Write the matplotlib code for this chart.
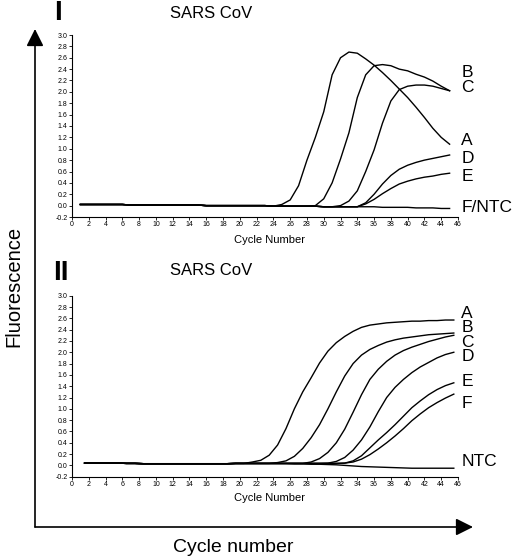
import numpy as np
import matplotlib
matplotlib.use("Agg")
import matplotlib.pyplot as plt

plt.rcParams['font.family'] = ['Liberation Sans', 'DejaVu Sans']

# ---------------- data ----------------
# Panel I: cycles 1..45
cycles1 = np.arange(1, 46)
base1 = [0.02, 0.02, 0.02, 0.02, 0.02, 0.02, 0.01, 0.01, 0.01, 0.01,
         0.01, 0.01, 0.01, 0.01, 0.01, 0.0, 0.0, 0.0, 0.0, 0.0,
         0.0, 0.0, 0.0, -0.01, -0.01, -0.01, -0.01, -0.01, -0.01, -0.02,
         -0.02, -0.02, -0.02, -0.02, -0.02, -0.02, -0.03, -0.03, -0.03, -0.03,
         -0.04, -0.04, -0.04, -0.05, -0.05]
rise_A1 = [0.02, 0.1, 0.35, 0.8, 1.2, 1.65, 2.3, 2.6, 2.7, 2.68, 2.58,
           2.47, 2.34, 2.2, 2.05, 1.9, 1.73, 1.55, 1.36, 1.2, 1.08]      # from cycle 25
rise_B1 = [0.0, 0.12, 0.4, 0.82, 1.28, 1.9, 2.3, 2.46, 2.48, 2.46, 2.4,
           2.37, 2.31, 2.26, 2.19, 2.1, 2.02]                           # from cycle 29
rise_C1 = [0.0, 0.08, 0.26, 0.6, 0.98, 1.45, 1.84, 2.04, 2.1, 2.12,
           2.12, 2.1, 2.06, 2.02]                                       # from cycle 32
rise_D1 = [0.05, 0.2, 0.38, 0.53, 0.64, 0.71, 0.76, 0.8, 0.83, 0.86, 0.89]  # from cycle 35
rise_E1 = [0.03, 0.11, 0.21, 0.3, 0.38, 0.43, 0.47, 0.5, 0.52, 0.55, 0.57]  # from cycle 35

panel1 = {
    'A': base1[:24] + rise_A1,
    'B': base1[:28] + rise_B1,
    'C': base1[:31] + rise_C1,
    'D': base1[:34] + rise_D1,
    'E': base1[:34] + rise_E1,
    'F/NTC': base1,
}
labels1 = ['B', 'C', 'A', 'D', 'E', 'F/NTC']
label_y1 = [2.34, 2.07, 1.15, 0.82, 0.52, -0.03]

# Panel II: readings every cycle starting at 1.5
cycles2 = np.arange(1.5, 46.0, 1.0)
base2 = [0.04, 0.04, 0.04, 0.04, 0.04, 0.035, 0.035, 0.03, 0.03, 0.03,
         0.03, 0.03, 0.03, 0.03, 0.03, 0.03, 0.03, 0.03, 0.035, 0.035,
         0.035, 0.035, 0.035, 0.035, 0.035, 0.035, 0.035, 0.035, 0.035, 0.035,
         0.035, 0.035]
rise_A2 = [0.06, 0.09, 0.18, 0.36, 0.65, 1.0, 1.3, 1.55, 1.81, 2.02,
           2.17, 2.28, 2.37, 2.44, 2.48, 2.5, 2.52, 2.53, 2.54, 2.55,
           2.55, 2.56, 2.56, 2.57, 2.57]                                # from 21.5
rise_B2 = [0.05, 0.08, 0.16, 0.3, 0.49, 0.72, 1.0, 1.3, 1.58, 1.8,
           1.95, 2.05, 2.12, 2.18, 2.22, 2.25, 2.27, 2.29, 2.31, 2.32,
           2.33, 2.34]                                                  # from 24.5
rise_C2 = [0.06, 0.12, 0.23, 0.4, 0.64, 0.94, 1.25, 1.52, 1.7, 1.84,
           1.95, 2.03, 2.09, 2.14, 2.19, 2.23, 2.27, 2.30]              # from 28.5
rise_D2 = [0.04, 0.07, 0.14, 0.27, 0.45, 0.68, 0.95, 1.2, 1.38, 1.52,
           1.64, 1.74, 1.82, 1.9, 1.96, 2.0]                            # from 30.5
rise_E2 = [0.04, 0.08, 0.17, 0.31, 0.45, 0.58, 0.72, 0.87, 1.02, 1.14,
           1.25, 1.34, 1.41, 1.46]                                      # from 32.5
rise_F2 = [0.04, 0.06, 0.11, 0.19, 0.29, 0.4, 0.52, 0.65, 0.79, 0.91,
           1.02, 1.11, 1.19, 1.26]                                      # from 32.5
ntc2 = [0.04, 0.04, 0.04, 0.04, 0.04, 0.035, 0.035, 0.03, 0.03, 0.03,
        0.03, 0.03, 0.03, 0.03, 0.03, 0.03, 0.03, 0.03, 0.03, 0.03,
        0.03, 0.03, 0.03, 0.03, 0.03, 0.025, 0.025, 0.02, 0.02, 0.015,
        0.01, 0.0, -0.01, -0.02, -0.025, -0.03, -0.035, -0.04, -0.045, -0.05,
        -0.05, -0.05, -0.05, -0.05, -0.05]

panel2 = {
    'A': base2[:20] + rise_A2,
    'B': base2[:23] + rise_B2,
    'C': base2[:27] + rise_C2,
    'D': base2[:29] + rise_D2,
    'E': base2[:31] + rise_E2,
    'F': base2[:31] + rise_F2,
    'NTC': ntc2,
}
labels2 = ['A', 'B', 'C', 'D', 'E', 'F', 'NTC']
label_y2 = [2.69, 2.43, 2.18, 1.92, 1.49, 1.10, 0.06]

yticks = np.round(np.arange(-0.2, 3.01, 0.2), 1)
xticks = np.arange(0, 47, 2)

# ---------------- figure ----------------
W, H = 514, 560
fig = plt.figure(figsize=(W / 100, H / 100), dpi=100)


def panel(rect, cycles, series, labels, label_y):
    ax = fig.add_axes(rect)
    for name, vals in series.items():
        ax.plot(cycles, vals, color='black', lw=1.0)
    ax.set_xlim(0, 46)
    ax.set_ylim(-0.2, 3.0)
    ax.set_xticks(xticks)
    ax.set_yticks(yticks)
    ax.set_yticklabels([f'{v:.1f}' for v in yticks])
    ax.tick_params(labelsize=5, length=2.2, width=0.6, pad=1, direction='out')
    for s in ['top', 'right']:
        ax.spines[s].set_visible(False)
    for s in ['left', 'bottom']:
        ax.spines[s].set_linewidth(0.8)
    for lab, yv in zip(labels, label_y):
        ax.text(46.4, yv, lab, fontsize=12.5, ha='left', va='center', clip_on=False)
    return ax


panel([72 / W, 1 - 217 / H, 386 / W, 182 / H], cycles1, panel1, labels1, label_y1)
panel([72 / W, 1 - 476.7 / H, 386 / W, 181 / H], cycles2, panel2, labels2, label_y2)

# panel titles and labels
fig.text(57.5 / W, 1 - 13 / H, 'I', fontsize=20, fontweight='bold', ha='center', va='center')
fig.text(61 / W, 1 - 273 / H, 'II', fontsize=20, fontweight='bold', ha='center', va='center')
fig.text(170 / W, 1 - 14 / H, 'SARS CoV', fontsize=12, ha='left', va='center')
fig.text(170 / W, 1 - 270 / H, 'SARS CoV', fontsize=12, ha='left', va='center')
fig.text(269 / W, 1 - 240 / H, 'Cycle Number', fontsize=8, ha='center', va='center')
fig.text(269 / W, 1 - 498 / H, 'Cycle Number', fontsize=8, ha='center', va='center')

# outer arrows
arrow = dict(arrowstyle='-|>,head_length=0.8,head_width=0.4', color='black',
             lw=1.2, shrinkA=0, shrinkB=0, mutation_scale=13)
fig.add_artist(plt.Annotation('', xy=(35 / W, 1 - 29 / H), xytext=(35 / W, 1 - 527 / H),
                              xycoords='figure fraction', arrowprops=arrow))
fig.add_artist(plt.Annotation('', xy=(473 / W, 1 - 527 / H), xytext=(35 / W, 1 - 527 / H),
                              xycoords='figure fraction', arrowprops=arrow))
fig.text(14 / W, 1 - 286 / H, 'Fluorescence', fontsize=14.5, rotation=90,
         ha='center', va='center')
fig.text(233 / W, 1 - 548 / H, 'Cycle number', fontsize=14, ha='center', va='center')

fig.savefig('out.png', dpi=100)
